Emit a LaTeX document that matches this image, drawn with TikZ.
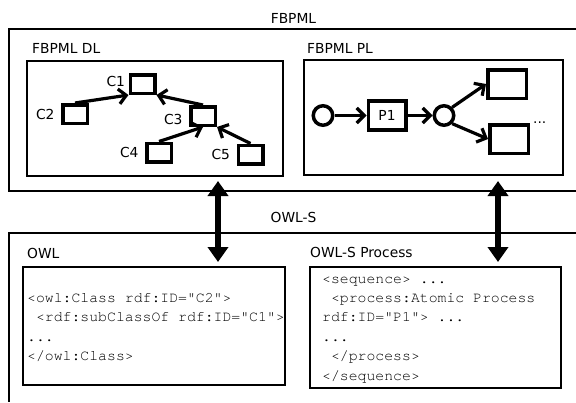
\documentclass[tikz,border=0pt]{standalone}
\usepackage{fontspec}
\setmainfont{DejaVu Sans}
\newfontfamily\codefont{TeX Gyre Cursor}
\usetikzlibrary{arrows.meta, positioning, calc}

\tikzset{
  frame/.style={line width=2pt},
  panel/.style={draw, line width=2pt, inner sep=0pt},
  classbox/.style={draw, line width=3.5pt, minimum width=24.5pt,
    minimum height=18.5pt, inner sep=0pt},
  procbox/.style={draw, line width=3.5pt, minimum width=37.5pt,
    minimum height=29pt, inner sep=0pt},
  state/.style={draw, circle, line width=3.5pt, minimum size=19.5pt, inner sep=0pt},
  link/.style={line width=3.2pt, -{Straight Barb[length=7.5pt, width=15pt]}},
  mapping/.style={line width=6pt,
    {Triangle[length=15pt, width=20pt]}-{Triangle[length=15pt, width=20pt]}},
  title/.style={anchor=base west, inner sep=0pt},
  code/.style={anchor=base west, inner sep=0pt, align=left,
    font=\codefont\fontsize{14.8}{19.4}\selectfont},
  every label/.style={font=\fontsize{13.8}{16}\selectfont}
}

\begin{document}
\begin{tikzpicture}[x=1pt, y=-1pt, font=\fontsize{13.8}{16}\selectfont]
  \useasboundingbox (0,0) rectangle (576,402);

  % outer frames (open to the right)
  \draw[frame] (576,29) -- (9,29) -- (9,191) -- (576,191);
  \draw[frame] (576,233) -- (9,233) -- (9,402);
  \node[anchor=base] (fbpml) at (293.5,23) {FBPML};
  \node[anchor=base] (owls) at (293.5,222) {OWL-S};

  % FBPML DL
  \node[title] (dltitle) at (32,53) {FBPML DL};
  \node[panel, minimum width=256pt, minimum height=115pt] (dl) at (155,118.5) {};
  \node[classbox, label={[label distance=0pt, yshift=3pt]left:C1}] (c1) at (142.5,84) {};
  \node[classbox, label={[label distance=3pt]left:C2}] (c2) at (75,114) {};
  \node[classbox, label={[label distance=3pt, yshift=-3.5pt]left:C3}] (c3) at (203,116) {};
  \node[classbox, label={[label distance=3pt]left:C4}] (c4) at (159,152.5) {};
  \node[classbox, label={[label distance=3pt]left:C5}] (c5) at (250.5,154.5) {};
  \draw[link] (c2.north) -- (c1.south west);
  \draw[link] (c3.north) -- (c1.south east);
  \draw[link] (c4.north) -- (c3.south);
  \draw[link] (c5.north) -- (c3.south east);

  % FBPML PL
  \node[title] (pltitle) at (307,53) {FBPML PL};
  \node[panel, minimum width=259pt, minimum height=115pt] (pl) at (433.5,117.5) {};
  \node[state] (start) at (323,115.5) {};
  \node[procbox, right=32pt of start] (p1) {P1};
  \node[state, right=25pt of p1] (split) {};
  \node[procbox, minimum width=38.5pt, minimum height=28.5pt] (next) at (507,84) {};
  \node[procbox, minimum width=38.5pt, minimum height=28.5pt] (other) at (509,139) {};
  \node[anchor=base west, inner sep=0pt] (more) at (533,123) {...};
  \draw[link] (start) -- (p1);
  \draw[link] (p1) -- (split);
  \draw[link] (split.north east) -- (next.west);
  \draw[link] (split.south east) -- (other.west);

  % mappings
  \coordinate (dlport) at (218,181);
  \coordinate (owlport) at (218,262);
  \coordinate (plport) at (498,181);
  \coordinate (procport) at (498,262);
  \draw[mapping] (dlport) -- (owlport);
  \draw[mapping] (plport) -- (procport);

  % OWL
  \node[title] (owltitle) at (27,258) {OWL};
  \node[panel, minimum width=262pt, minimum height=118pt] (owl) at (154,326) {};
  \node[code] (owlcode) at (27,360.5)
    {<owl:Class rdf:ID="C2">\\
     \ <rdf:subClassOf rdf:ID="C1">\\
     ...\\
     </owl:Class>};

  % OWL-S Process
  \node[title] (proctitle) at (310,257) {OWL-S Process};
  \node[panel, minimum width=251pt, minimum height=121pt] (proc) at (435.5,327.5) {};
  \node[code] (proccode) at (322,380)
    {<sequence> ...\\
     \ <process:Atomic Process\\
     rdf:ID="P1"> ...\\
     ...\\
     \ </process>\\
     </sequence>};
\end{tikzpicture}
\end{document}
